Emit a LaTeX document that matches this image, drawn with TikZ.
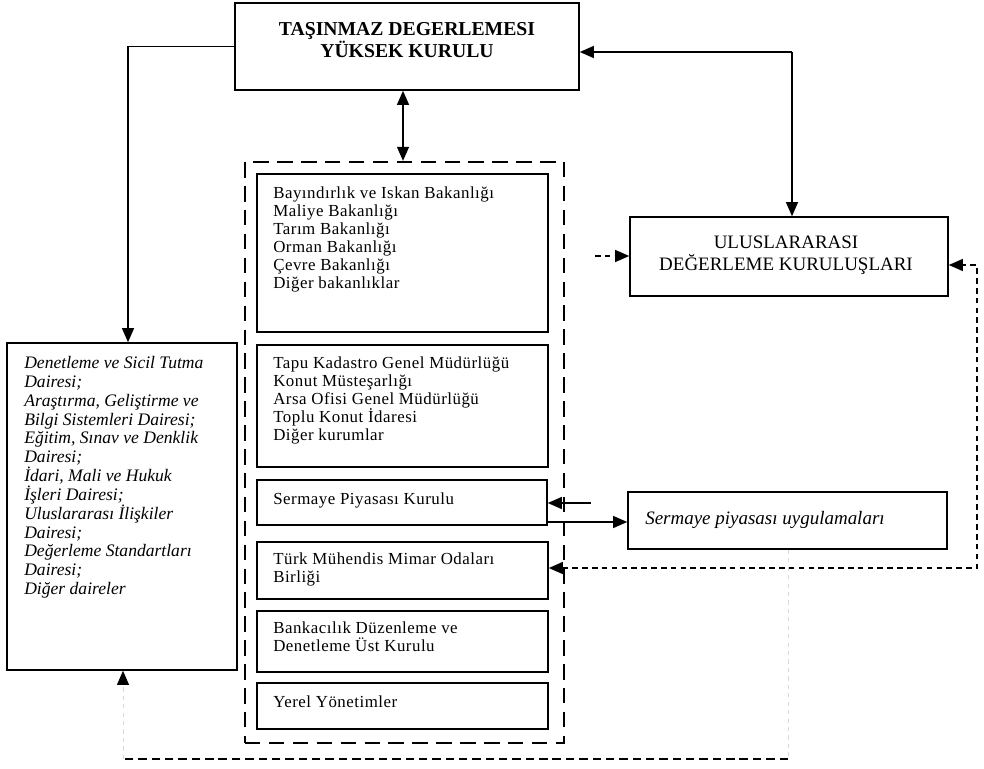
\documentclass[tikz,border=0pt]{standalone}
\usepackage{fontspec}
\setmainfont{Liberation Serif}
\usetikzlibrary{arrows.meta,fit}
\begin{document}
\begin{tikzpicture}[x=0.025cm,y=-0.025cm,
  box/.style={draw,line width=1.1pt,inner sep=0pt},
  mtxt/.style={anchor=north west,align=left,inner sep=0pt,font=\fontsize{12}{12.8}\selectfont\addfontfeature{LetterSpace=3}},
  ltxt/.style={anchor=north west,align=left,inner sep=0pt,font=\fontsize{12.5}{13.4}\selectfont\itshape},
  arr/.style={line width=1pt,-{Triangle[length=10pt,width=8.5pt]}},
  darr/.style={line width=1pt,{Triangle[length=10pt,width=8.5pt]}-{Triangle[length=10pt,width=8.5pt]}},
  contdash/.style={line width=1.6pt,dash pattern=on 11pt off 6pt},
  finedash/.style={line width=1.1pt,dash pattern=on 4pt off 3pt},
  botdash/.style={line width=1.4pt,dash pattern=on 6pt off 3.5pt},
  faint/.style={line width=0.6pt,draw=black!15,dash pattern=on 3pt off 3pt}]
\useasboundingbox (0,0) rectangle (984,768);

% top box
\node[box,fit={(235,3)(579,90)}] (top) {};
\node[font=\fontsize{14}{14}\selectfont\bfseries,align=center,inner sep=0pt] (toptxt) at (407,40) {TAŞINMAZ DEGERLEMESI\\YÜKSEK KURULU};

% dashed container
\node[contdash,draw,inner sep=0pt,fit={(245,162)(564,743)}] (cont) {};

% middle boxes
\node[box,fit={(257,174)(548,332)}] (b1) {};
\node[mtxt] (t1) at (273,187) {Bayındırlık ve Iskan Bakanlığı\\Maliye Bakanlığı\\Tarım Bakanlığı\\Orman Bakanlığı\\Çevre Bakanlığı\\Diğer bakanlıklar};

\node[box,fit={(257,345)(548,467)}] (b2) {};
\node[mtxt] (t2) at (273,357) {Tapu Kadastro Genel Müdürlüğü\\Konut Müsteşarlığı\\Arsa Ofisi Genel Müdürlüğü\\Toplu Konut İdaresi\\Diğer kurumlar};

\node[box,fit={(257,480)(547,525)}] (b3) {};
\node[mtxt] (t3) at (273,493) {Sermaye Piyasası Kurulu};

\node[box,fit={(257,542)(548,599)}] (b4) {};
\node[mtxt] (t4) at (273,553) {Türk Mühendis Mimar Odaları\\Birliği};

\node[box,fit={(257,611)(548,672)}] (b5) {};
\node[mtxt] (t5) at (273,622) {Bankacılık Düzenleme ve\\Denetleme Üst Kurulu};

\node[box,fit={(257,683)(548,729)}] (b6) {};
\node[mtxt] (t6) at (273,696) {Yerel Yönetimler};

% left box
\node[box,fit={(7,343)(237,670)}] (lb) {};
\node[ltxt] (lt) at (24,356) {Denetleme ve Sicil Tutma\\Dairesi;\\Araştırma, Geliştirme ve\\Bilgi Sistemleri Dairesi;\\Eğitim, Sınav ve Denklik\\Dairesi;\\İdari, Mali ve Hukuk\\İşleri Dairesi;\\Uluslararası İlişkiler\\Dairesi;\\Değerleme Standartları\\Dairesi;\\Diğer daireler};

% right boxes
\node[box,fit={(630,217)(948,296)}] (ul) {};
\node[font=\fontsize{13.5}{15.5}\selectfont,align=center,inner sep=0pt] (ultxt) at (786,255) {ULUSLARARASI\\DEĞERLEME KURULUŞLARI};

\node[box,fit={(628,492)(947,549)}] (su) {};
\node[anchor=west,inner sep=0pt,font=\fontsize{13.5}{13.5}\selectfont\itshape] (sutxt) at (645,520) {Sermaye piyasası uygulamaları};

% connectors
\coordinate (cL) at (128,47);
\draw[arr] (top.west) -| (cL |- lb.north);

\coordinate (cR) at (792,52);
\draw[arr] (cR) -- (cR -| top.east);
\draw[arr] (cR) -- (cR |- ul.north);

\coordinate (cM) at (403,0);
\draw[darr] (cM |- top.south) -- (cM |- cont.north);

\coordinate (cU) at (595,256);
\draw[finedash,-{Triangle[length=10pt,width=8.5pt]}] (cU) -- (cU -| ul.west);

\coordinate (cR1) at (977,265);
\coordinate (cR2) at (977,568);
\draw[finedash,{Triangle[length=10pt,width=8.5pt]}-{Triangle[length=10pt,width=8.5pt]}] (cR2 -| b4.east) -- (cR2) -- (cR1) -- (cR1 -| ul.east);

\coordinate (cS) at (591,503);
\draw[arr] (cS) -- (cS -| b3.east);
\coordinate (cS2) at (0,522);
\draw[arr] (b3.east |- cS2) -- (su.west |- cS2);

\coordinate (cB1) at (788,759);
\coordinate (cB2) at (123,759);
\draw[faint] (su.south -| cB1) -- (cB1);
\draw[botdash] (cB1) -- (cB2);
\draw[faint,-{Triangle[length=10pt,width=8.5pt,color=black]}] (cB2) -- (cB2 |- lb.south);
\end{tikzpicture}
\end{document}
